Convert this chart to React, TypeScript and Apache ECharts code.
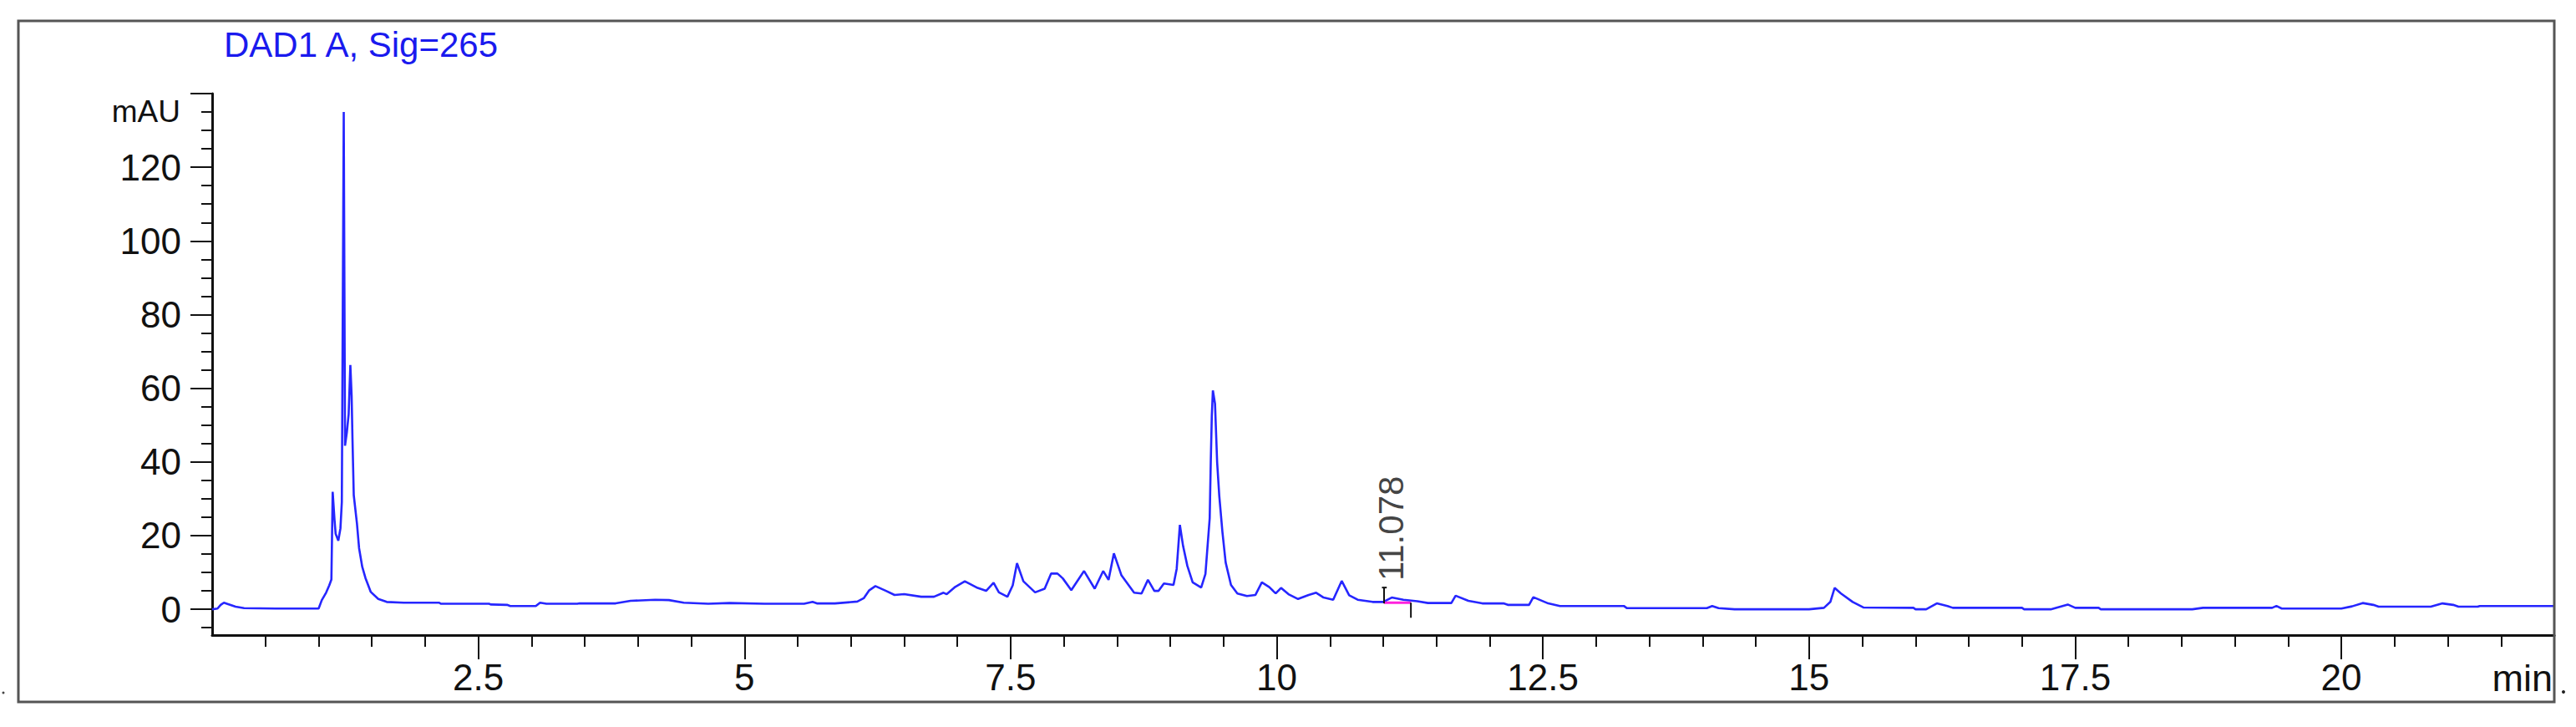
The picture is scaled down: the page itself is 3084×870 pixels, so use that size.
import React, { useEffect, useRef } from 'react';
import * as echarts from 'echarts';

// Retention time (min) and detector signal (mAU)
const retentionTimes = [
  0.00, 0.05, 0.08, 0.11, 0.15, 0.22, 0.30, 0.60, 1.00, 1.03, 1.07, 1.10, 1.12,
  1.132, 1.15, 1.16, 1.185, 1.205, 1.218, 1.236, 1.248, 1.265, 1.282, 1.298, 1.31,
  1.318, 1.33, 1.36, 1.38, 1.41, 1.44, 1.49, 1.56, 1.64, 1.80, 2.13, 2.15, 2.60,
  2.62, 2.77, 2.80, 3.04, 3.08, 3.14, 3.43, 3.45, 3.79, 3.93, 4.16, 4.29, 4.43,
  4.66, 4.86, 5.19, 5.56, 5.64, 5.68, 5.85, 6.06, 6.12, 6.17, 6.23, 6.33, 6.41,
  6.50, 6.66, 6.78, 6.87, 6.90, 6.98, 7.07, 7.19, 7.27, 7.34, 7.39, 7.47, 7.52,
  7.56, 7.62, 7.73, 7.82, 7.88, 7.94, 7.99, 8.07, 8.19, 8.29, 8.37, 8.42, 8.47,
  8.54, 8.66, 8.73, 8.79, 8.85, 8.89, 8.94, 9.03, 9.06, 9.09, 9.12, 9.16, 9.21,
  9.29, 9.33, 9.37, 9.38, 9.39, 9.40, 9.42, 9.44, 9.46, 9.49, 9.52, 9.57, 9.63,
  9.72, 9.80, 9.86, 9.93, 9.99, 10.04, 10.11, 10.20, 10.30, 10.37, 10.44, 10.53,
  10.61, 10.68, 10.76, 10.90, 11.00, 11.08, 11.19, 11.32, 11.42, 11.64, 11.68,
  11.80, 11.93, 12.13, 12.17, 12.37, 12.41, 12.55, 12.66, 13.26, 13.29, 14.04,
  14.09, 14.15, 14.30, 15.00, 15.14, 15.20, 15.24, 15.30, 15.41, 15.51, 15.98,
  16.00, 16.10, 16.20, 16.30, 16.35, 17.00, 17.02, 17.27, 17.43, 17.50, 17.72,
  17.74, 18.60, 18.70, 19.35, 19.39, 19.44, 20.00, 20.10, 20.20, 20.30, 20.35,
  20.84, 20.95, 21.05, 21.10, 21.28, 21.30, 22.00,
];
const signalMAU = [
  0.0, 0.2, 1.2, 1.8, 1.4, 0.7, 0.3, 0.2, 0.2, 2.5, 4.5, 6.5, 8.1,
  31.9, 24.0, 20.5, 18.6, 22.0, 29.1, 135.0, 44.4, 48.0, 52.9, 66.3, 58.0,
  46.3, 31.0, 23.3, 16.6, 11.5, 8.5, 4.7, 2.8, 2.0, 1.8, 1.8, 1.5, 1.5,
  1.3, 1.2, 0.9, 0.9, 1.8, 1.5, 1.5, 1.6, 1.6, 2.3, 2.6, 2.5, 1.8,
  1.5, 1.7, 1.5, 1.5, 2.0, 1.6, 1.6, 2.1, 3.0, 5.1, 6.3, 5.0, 3.9,
  4.1, 3.4, 3.4, 4.5, 4.1, 6.1, 7.6, 5.8, 5.0, 7.2, 4.6, 3.4, 6.5,
  12.5, 7.6, 4.6, 5.6, 9.7, 9.7, 8.4, 5.2, 10.4, 5.6, 10.4, 8.0, 15.2,
  9.3, 4.5, 4.3, 8.0, 5.0, 5.0, 7.0, 6.6, 11.0, 22.9, 17.2, 11.8, 7.3,
  5.9, 9.6, 24.7, 39.9, 52.6, 59.4, 55.8, 39.9, 30.8, 20.9, 12.7, 6.6, 4.3,
  3.6, 3.9, 7.3, 6.0, 4.3, 5.8, 4.1, 2.8, 3.9, 4.5, 3.2, 2.6,
  7.7, 3.8, 2.6, 2.0, 2.0, 3.2, 2.6, 2.2, 1.7, 1.7, 3.7,
  2.3, 1.6, 1.6, 1.2, 1.2, 3.3, 1.6, 0.9, 0.9, 0.3, 0.3,
  0.9, 0.3, 0.0, 0.0, 0.4, 2.0, 5.8, 4.3, 2.0, 0.5, 0.4,
  0.0, 0.0, 1.6, 0.9, 0.4, 0.4, 0.0, 0.0, 1.3, 0.4, 0.4,
  0.0, 0.0, 0.4, 0.4, 0.9, 0.2, 0.2, 0.8, 1.7, 1.2, 0.7,
  0.7, 1.6, 1.2, 0.7, 0.7, 0.9, 0.9,
];

// Integrated peak annotation
const peakLabel = '11.078';
const peakApex = [11.078, 3.2];
const peakStart = [11.008, 1.8];
const peakEnd = [11.26, 1.8];
const startMarkTop = 5.9;
const startMarkBottom = 1.6;
const endMarkBottom = -2.3;

// Axes
const xMin = 0;
const xMax = 22;
const yMin = -7;
const yMax = 140;
const xLabelValues = [2.5, 5, 7.5, 10, 12.5, 15, 17.5, 20];
const xMajorTicks = [2.5, 5, 7.5, 10, 12.5, 15, 17.5, 20];
const xMinorTicks = [
  0.5, 1, 1.5, 2, 3, 3.5, 4, 4.5, 5.5, 6, 6.5, 7, 8, 8.5, 9, 9.5, 10.5, 11, 11.5,
  12, 13, 13.5, 14, 14.5, 15.5, 16, 16.5, 17, 18, 18.5, 19, 19.5, 20.5, 21, 21.5,
];
const yLabelValues = [0, 20, 40, 60, 80, 100, 120];
const yMajorTicks = [0, 20, 40, 60, 80, 100, 120, 140];
const yMinorTicks = [
  -5, 5, 10, 15, 25, 30, 35, 45, 50, 55, 65, 70, 75, 85, 90, 95, 105, 110, 115,
  125, 130, 135,
];

const titleText = 'DAD1 A, Sig=265';
const yUnit = 'mAU';
const xUnit = 'min';

const narrowFont = "'Liberation Sans Narrow', 'Liberation Sans', Arial, sans-serif";
const regularFont = "'Liberation Sans', Arial, sans-serif";

export default function App() {
  const ref = useRef<HTMLDivElement>(null);

  useEffect(() => {
    if (!ref.current) return;
    const chart = echarts.init(ref.current, undefined, { renderer: 'svg' });
    const trace = retentionTimes.map((t, i) => [t, signalMAU[i]]);
    const tickStyle = { color: '#111', width: 2 };

    const option: any = {
      animation: false,
      backgroundColor: '#ffffff',
      grid: { left: 254, top: 112, width: 2804, height: 648, containLabel: false },
      xAxis: [
        {
          type: 'value', min: xMin, max: xMax, position: 'bottom',
          axisLine: { show: true, onZero: false, lineStyle: { color: '#111', width: 3 } },
          axisTick: { show: true, length: 29, lineStyle: tickStyle, customValues: xMajorTicks },
          axisLabel: {
            show: true, customValues: xLabelValues, margin: 28, fontSize: 44,
            fontFamily: narrowFont, color: '#111',
          },
          splitLine: { show: false },
        },
        {
          type: 'value', min: xMin, max: xMax, position: 'bottom',
          axisLine: { show: false, onZero: false },
          axisTick: { show: true, length: 14, lineStyle: tickStyle, customValues: xMinorTicks },
          axisLabel: { show: false },
          splitLine: { show: false },
        },
      ],
      yAxis: [
        {
          type: 'value', min: yMin, max: yMax, position: 'left',
          axisLine: { show: true, onZero: false, lineStyle: { color: '#111', width: 3 } },
          axisTick: { show: true, length: 26, lineStyle: tickStyle, customValues: yMajorTicks },
          axisLabel: {
            show: true, customValues: yLabelValues, margin: 37, fontSize: 44,
            fontFamily: narrowFont, color: '#111',
          },
          splitLine: { show: false },
        },
        {
          type: 'value', min: yMin, max: yMax, position: 'left',
          axisLine: { show: false, onZero: false },
          axisTick: { show: true, length: 13, lineStyle: tickStyle, customValues: yMinorTicks },
          axisLabel: { show: false },
          splitLine: { show: false },
        },
      ],
      series: [
        {
          type: 'line', xAxisIndex: 0, yAxisIndex: 0, data: trace, symbol: 'none',
          lineStyle: { color: '#2626ff', width: 2.6 }, silent: true, z: 3,
        },
        {
          type: 'line', xAxisIndex: 0, yAxisIndex: 0, data: [peakStart, peakEnd], symbol: 'none',
          lineStyle: { color: '#ff22dd', width: 3 }, silent: true, z: 4,
        },
        {
          type: 'line', xAxisIndex: 0, yAxisIndex: 0,
          data: [[peakStart[0], startMarkBottom], [peakStart[0], startMarkTop]], symbol: 'none',
          lineStyle: { color: '#111', width: 2 }, silent: true, z: 5,
        },
        {
          type: 'line', xAxisIndex: 0, yAxisIndex: 0,
          data: [[peakStart[0] - 0.02, startMarkTop], [peakStart[0] + 0.025, startMarkTop]], symbol: 'none',
          lineStyle: { color: '#111', width: 2 }, silent: true, z: 5,
        },
        {
          type: 'line', xAxisIndex: 0, yAxisIndex: 0,
          data: [[peakEnd[0], peakEnd[1]], [peakEnd[0], endMarkBottom]], symbol: 'none',
          lineStyle: { color: '#111', width: 2 }, silent: true, z: 5,
        },
        {
          type: 'scatter', xAxisIndex: 0, yAxisIndex: 0, data: [peakApex], symbolSize: 0.1,
          itemStyle: { color: 'rgba(0,0,0,0)' }, silent: true, z: 6,
          label: {
            show: true, formatter: peakLabel, rotate: 90, position: 'top', distance: 20,
            align: 'left', verticalAlign: 'middle', fontSize: 42, fontFamily: regularFont, color: '#111',
          },
        },
      ],
      graphic: [
        {
          type: 'rect', shape: { x: 22, y: 25, width: 3036, height: 815 },
          style: { fill: 'none', stroke: '#555', lineWidth: 3 }, silent: true, z: 10,
        },
        {
          type: 'text', x: 268, y: 53,
          style: { text: titleText, fontSize: 42, fontFamily: regularFont, fill: '#1a1aee', align: 'left', verticalAlign: 'middle' },
          silent: true, z: 10,
        },
        {
          type: 'text', x: 216, y: 133,
          style: { text: yUnit, fontSize: 37, fontFamily: regularFont, fill: '#111', align: 'right', verticalAlign: 'middle' },
          silent: true, z: 10,
        },
        {
          type: 'text', x: 3056, y: 811,
          style: { text: xUnit, fontSize: 45, fontFamily: narrowFont, fill: '#111', align: 'right', verticalAlign: 'middle' },
          silent: true, z: 10,
        },
        { type: 'circle', shape: { cx: 4, cy: 829, r: 1.5 }, style: { fill: '#444' }, silent: true },
        { type: 'circle', shape: { cx: 3069, cy: 828, r: 2 }, style: { fill: '#222' }, silent: true },
      ],
    };

    chart.setOption(option);
    return () => chart.dispose();
  }, []);

  return (
    <div
      ref={ref}
      style={{ position: 'absolute', left: 0, top: 0, width: 3084, height: 870, background: '#fff' }}
    />
  );
}
